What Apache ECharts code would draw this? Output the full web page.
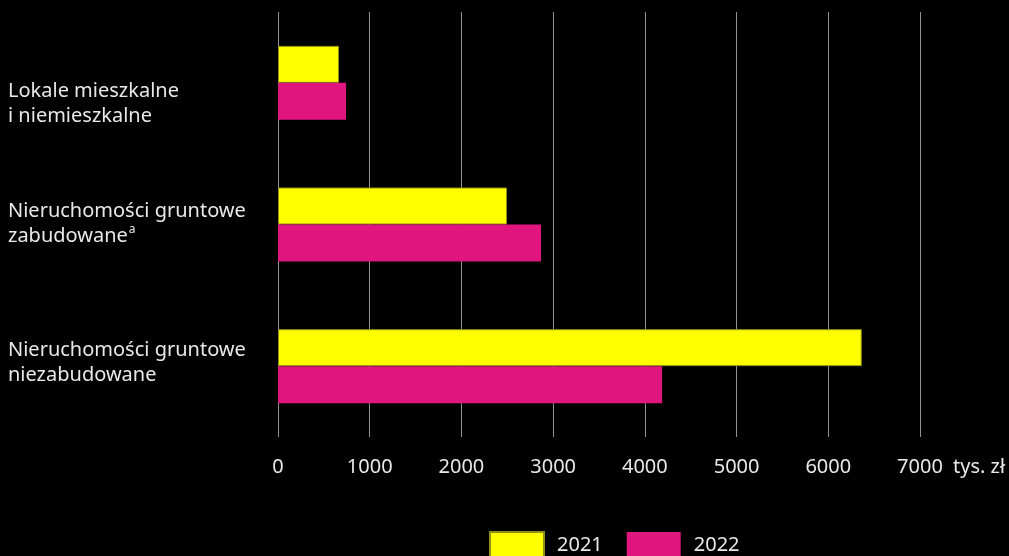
<!DOCTYPE html>
<html>
<head>
<meta charset="utf-8">
<script src="https://cdn.jsdelivr.net/npm/echarts@6/dist/echarts.min.js"></script>
<style>
html,body{margin:0;padding:0;background:#000;}
#c{width:1009px;height:556px;}
</style>
</head>
<body>
<div id="c"></div>
<script>
var categories = ['Lokale mieszkalne\ni niemieszkalne', 'Nieruchomości gruntowe\nzabudowane', 'Nieruchomości gruntowe\nniezabudowane'];
var seriesNames = ['2021', '2022'];
var values2021 = [665, 2497, 6365];
var values2022 = [742, 2868, 4188];
var xTicks = [0, 1000, 2000, 3000, 4000, 5000, 6000, 7000];
var unitLabel = 'tys. zł';

var labelPads = [[42, 0, 0, 0], [0, 0, 2, 0], [0, 0, 6, 0]];
var catData = categories.map(function (c, i) {
  return { value: c, textStyle: { padding: labelPads[i], align: 'left' } };
});

var chart = echarts.init(document.getElementById('c'));
chart.setOption({
  backgroundColor: '#000',
  animation: false,
  textStyle: { fontFamily: 'Noto Sans' },
  legend: {
    left: 484,
    top: 526,
    icon: 'rect',
    itemWidth: 54,
    itemHeight: 26,
    itemGap: 24,
    data: seriesNames,
    textStyle: { color: '#e8e8e8', fontSize: 20, fontFamily: 'Noto Sans', padding: [0, 8, 0, 8] }
  },
  grid: { left: 278, right: 89, top: 12, bottom: 119, containLabel: false, outerBoundsMode: 'none' },
  xAxis: {
    type: 'value',
    min: xTicks[0],
    max: xTicks[xTicks.length - 1],
    interval: 1000,
    name: '\n' + unitLabel,
    nameLocation: 'end',
    nameGap: 33,
    nameTextStyle: { color: '#e8e8e8', fontSize: 20, fontFamily: 'Noto Sans', verticalAlign: 'middle', align: 'left', lineHeight: 60 },
    axisLine: { show: false },
    axisTick: { show: false },
    axisLabel: {
      color: '#e8e8e8', fontSize: 20, fontFamily: 'Noto Sans', margin: 20,
      formatter: function (v) { return String(v); }
    },
    splitLine: { show: true, lineStyle: { color: '#929292', width: 1 } }
  },
  yAxis: {
    type: 'category',
    inverse: true,
    data: catData,
    axisLine: { show: false },
    axisTick: { show: false },
    splitLine: { show: false },
    axisLabel: {
      color: '#e8e8e8',
      fontSize: 20,
      lineHeight: 25,
      fontFamily: 'Noto Sans',
      align: 'left',
      margin: 270,
      formatter: function (v) {
        return v.replace('zabudowane', 'zabudowane{sup|a}').replace('niezabudowane{sup|a}', 'niezabudowane');
      },
      rich: {
        sup: { fontSize: 12, verticalAlign: 'top', color: '#e8e8e8', fontFamily: 'Noto Sans', padding: [0, 0, 8, 1] }
      }
    }
  },
  series: [
    {
      name: seriesNames[0],
      type: 'bar',
      data: values2021,
      barWidth: 37,
      barGap: '0%',
      itemStyle: { color: '#ffff00', borderColor: '#8f8f1a', borderWidth: 1 }
    },
    {
      name: seriesNames[1],
      type: 'bar',
      data: values2022,
      barWidth: 37,
      barGap: '0%',
      itemStyle: { color: '#e0157e' }
    }
  ]
});
</script>
</body>
</html>
